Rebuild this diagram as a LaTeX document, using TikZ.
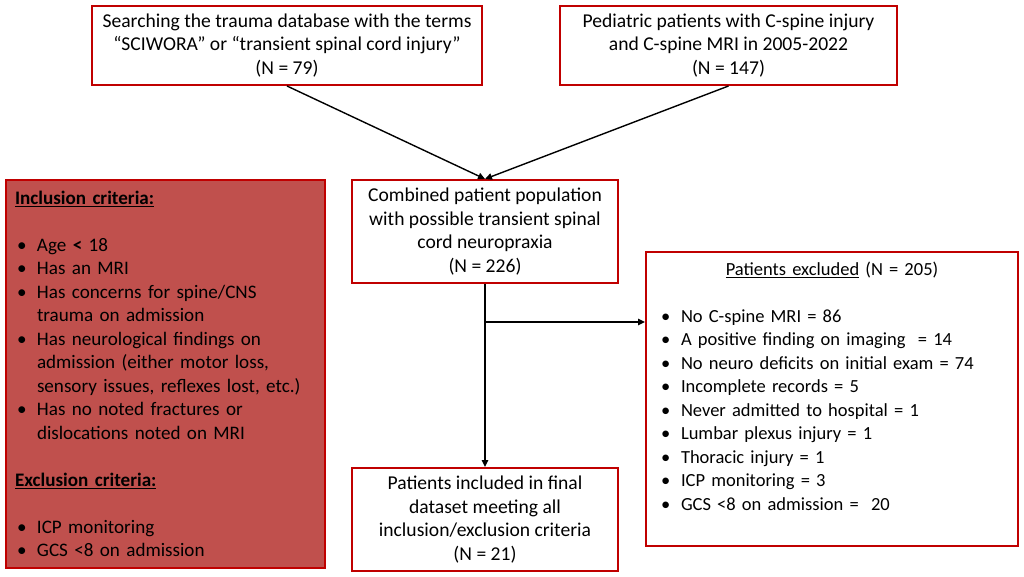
\documentclass[tikz,border=0pt]{standalone}
\usepackage{fontspec}
\setmainfont{Carlito}
\usepackage{tikz}
\usetikzlibrary{arrows.meta,positioning,calc}
\definecolor{boxred}{HTML}{C00000}
\definecolor{critred}{HTML}{C0504D}
\newcommand{\bul}{\makebox[22pt][l]{\hspace{2pt}\textbullet}}
\newcommand{\cont}{\hspace*{22pt}}
\tikzset{
  arr/.style={-{Triangle[length=7pt,width=6.5pt]},line width=1.4pt,black},
  flowbox/.style={rectangle,draw=boxred,line width=2pt,fill=white,
    inner sep=0pt,align=center,font=\fontsize{19.6}{23.5}\selectfont},
  critbox/.style={rectangle,draw=boxred,line width=2pt,inner ysep=0pt,
    align=left,font=\fontsize{18.5}{23.5}\selectfont},
}

\begin{document}
\begin{tikzpicture}[x=1pt,y=-1pt]
\useasboundingbox (0,0) rectangle (1024,577);

% sources (top)
\node[flowbox,minimum width=390pt,minimum height=79pt] (srch) at (287,45.5) {
  Searching the trauma database with the terms\\
  “SCIWORA” or “transient spinal cord injury”\\
  (N = 79)
};
\node[flowbox,minimum width=337pt,minimum height=79pt] (ped) at (728.5,45.5) {
  Pediatric patients with C-spine injury\\
  and C-spine MRI in 2005-2022\\
  (N = 147)
};

% combined population (centre)
\node[flowbox,minimum width=266pt,minimum height=103pt] (comb) at (485,231.5) {
  Combined patient population\\
  with possible transient spinal\\
  cord neuropraxia\\
  (N = 226)
};

% final dataset (bottom)
\node[flowbox,minimum width=266pt,minimum height=103pt] (fin) at (485,519.5) {
  Patients included in final\\
  dataset meeting all\\
  inclusion/exclusion criteria\\
  (N = 21)
};

% criteria (left)
\node[critbox,fill=critred,minimum width=319pt,minimum height=388pt,
  text width=301pt,inner xsep=9pt,font=\fontsize{19.1}{23.5}\selectfont]
  (crit) at (165.5,374) {
  \underline{\textbf{Inclusion criteria:}}\\[23.5pt]
  \bul Age \textbf{<} 18\\
  \bul Has an MRI\\
  \bul Has concerns for spine/CNS\\
  \cont trauma on admission\\
  \bul Has neurological findings on\\
  \cont admission (either motor loss,\\
  \cont sensory issues, reflexes lost, etc.)\\
  \bul Has no noted fractures or\\
  \cont dislocations noted on MRI\\[23.5pt]
  \underline{\textbf{Exclusion criteria:}}\\[23.5pt]
  \bul ICP monitoring\\
  \bul GCS <8 on admission
};

% excluded patients (right)
\node[critbox,fill=white,minimum width=372pt,minimum height=294pt,
  text width=346pt,inner xsep=13pt] (excl) at (832,399) {
  \makebox[\linewidth]{\underline{Patients excluded} (N = 205)}\\[23.5pt]
  \bul No C-spine MRI = 86\\
  \bul A positive finding on imaging \ = 14\\
  \bul No neuro deficits on initial exam = 74\\
  \bul Incomplete records = 5\\
  \bul Never admitted to hospital = 1\\
  \bul Lumbar plexus injury = 1\\
  \bul Thoracic injury = 1\\
  \bul ICP monitoring = 3\\
  \bul GCS <8 on admission = \ 20\\[2.5pt]
  \mbox{}
};

% connectors
\coordinate (split) at (485,322);
\draw[arr] (srch.south) -- (comb.north);
\draw[arr] (ped.south) -- (comb.north);
\draw[arr] (comb.south) -- (fin.north);
\draw[arr] (split) -- (split -| excl.west);
\end{tikzpicture}
\end{document}
